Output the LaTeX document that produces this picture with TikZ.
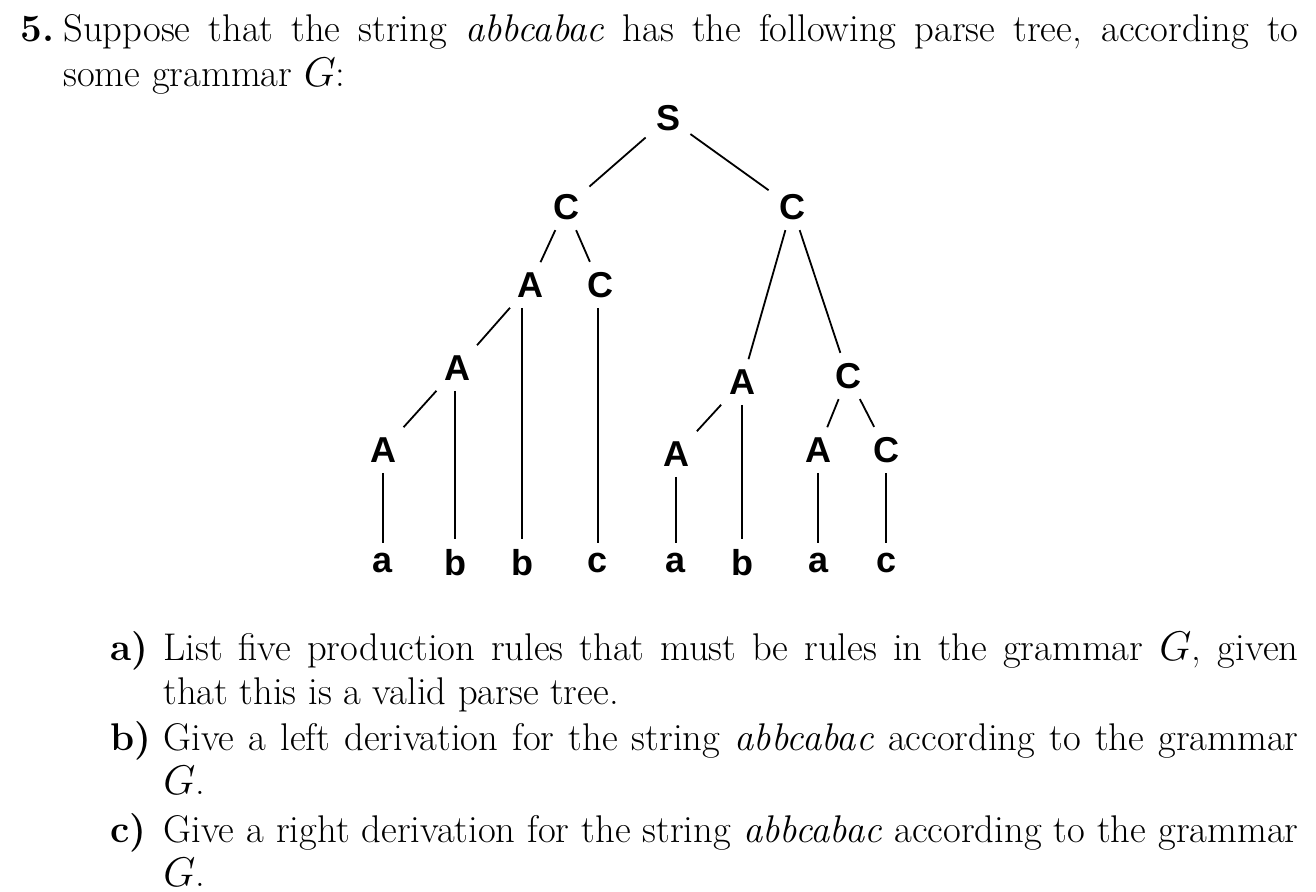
\documentclass[tikz,border=0pt]{standalone}
\usepackage{fontspec}
\newfontfamily\tf{Liberation Sans}
\begin{document}
\begin{tikzpicture}[x=0.5pt,y=-0.5pt,
  nd/.style={font=\tf\bfseries\fontsize{18}{20}\selectfont,inner sep=5pt},
  ln/.style={anchor=base west,inner sep=0pt,font=\fontsize{19.3}{24}\selectfont},
  e/.style={line width=0.9pt}]
\useasboundingbox (0,0) rectangle (1316,892);
% text
\node[ln] (n5) at (20,42) {\textbf{5.}};
\node[ln] (l1) at (63,42) {\hbox to 617.5pt{Suppose that the string \textit{abbcabac} has the following parse tree, according to}};
\node[ln] (l2) at (63,87) {some grammar $G$:};
\node[ln] (ia) at (110,660) {\textbf{a)}};
\node[ln] (a1) at (163,660) {\hbox to 567.5pt{List five production rules that must be rules in the grammar $G$, given}};
\node[ln] (a2) at (163,704) {that this is a valid parse tree.};
\node[ln] (ib) at (110,750) {\textbf{b)}};
\node[ln] (b1) at (163,750) {\hbox to 567.5pt{Give a left derivation for the string \textit{abbcabac} according to the grammar}};
\node[ln] (b2) at (163,794) {$G$.};
\node[ln] (ic) at (110,842) {\textbf{c)}};
\node[ln] (c1) at (163,842) {\hbox to 567.5pt{Give a right derivation for the string \textit{abbcabac} according to the grammar}};
\node[ln] (c2) at (163,886) {$G$.};
% tree
\node[nd] (S) at (668,118) {S};
\node[nd] (C1) at (566,207) {C};
\node[nd] (C2) at (792,207) {C};
\node[nd] (A1) at (530,285) {A};
\node[nd] (C3) at (600,285) {C};
\node[nd] (A2) at (457,368) {A};
\node[nd] (A3) at (383,450) {A};
\node[nd] (A4) at (742,382) {A};
\node[nd] (C4) at (848,376) {C};
\node[nd] (A5) at (676,454) {A};
\node[nd] (A6) at (818,450) {A};
\node[nd] (C5) at (886,450) {C};
\node[nd] (t1) at (383,563) {a};
\node[nd] (t2) at (455,563) {b};
\node[nd] (t3) at (522,563) {b};
\node[nd] (t4) at (598,563) {c};
\node[nd] (t5) at (676,563) {a};
\node[nd] (t6) at (742,563) {b};
\node[nd] (t7) at (818,563) {a};
\node[nd] (t8) at (886,563) {c};
\draw[e] (S) -- (C1);
\draw[e] (S) -- (C2);
\draw[e] (C1) -- (A1);
\draw[e] (C1) -- (C3);
\draw[e] (A1) -- (A2);
\draw[e] (A2) -- (A3);
\draw[e] (A3) -- (t1);
\draw[e] (A2.south) ++(-2,0) coordinate (p2) -- (p2 |- t2.north);
\draw[e] (A1.south) ++(-8,0) coordinate (p1) -- (p1 |- t3.north);
\draw[e] (C3.south) ++(-2,0) coordinate (p3) -- (p3 |- t4.north);
\draw[e] (C2) -- (A4);
\draw[e] (C2) -- (C4);
\draw[e] (A4) -- (A5);
\draw[e] (A4) -- (t6);
\draw[e] (A5) -- (t5);
\draw[e] (C4) -- (A6);
\draw[e] (C4) -- (C5);
\draw[e] (A6) -- (t7);
\draw[e] (C5) -- (t8);
\end{tikzpicture}
\end{document}
